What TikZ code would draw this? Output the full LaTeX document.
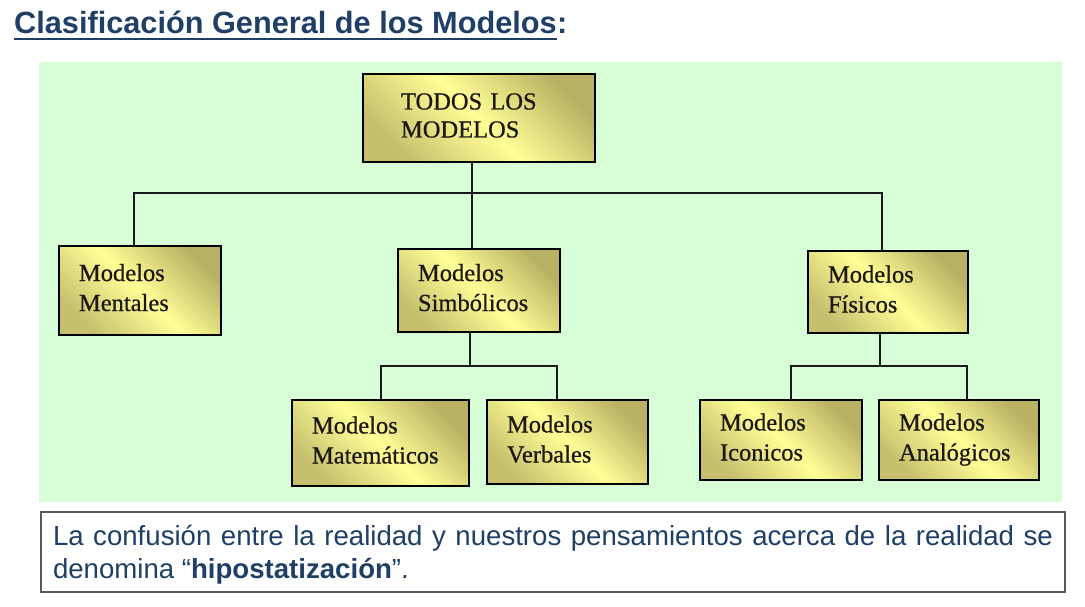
\documentclass[tikz,border=0pt]{standalone}
\usepackage{fontspec}
\setmainfont{Liberation Serif}
\newfontfamily\boxfont{Liberation Serif}[FakeBold=0.6]
\newfontfamily\arialf{Liberation Sans}
\definecolor{panel}{RGB}{216,254,216}
\definecolor{titleblue}{RGB}{31,63,102}
\definecolor{olivetop}{RGB}{185,178,100}
\definecolor{olivelow}{RGB}{198,192,110}
\definecolor{pale}{RGB}{255,255,150}
\definecolor{boxtext}{RGB}{28,24,20}
\begin{document}
\begin{tikzpicture}[x=1pt,y=-1pt,
  modelbox/.style={draw=black, line width=2pt, rectangle, inner xsep=20pt, inner ysep=0pt,
    align=left, top color=olivetop, bottom color=olivelow, middle color=pale, shading angle=-45,
    font=\boxfont\fontsize{24.5}{30}\selectfont, text=boxtext, text height=18pt, text depth=37pt},
  conn/.style={draw=black!90, line width=2.2pt}]
\useasboundingbox (0,0) rectangle (1085,607);
\fill[white] (0,0) rectangle (1085,607);
% title
\node[anchor=base west, inner sep=0pt, font=\arialf\bfseries\fontsize{30.7}{36}\selectfont, text=titleblue] (title) at (14,34) {Clasificación General de los Modelos};
\node[anchor=base west, inner sep=0pt, font=\arialf\bfseries\fontsize{30.7}{36}\selectfont, text=titleblue] (colon) at (title.base east) {:};
\draw[titleblue, line width=2.6pt] ([yshift=-5pt]title.base west) -- ([yshift=-5pt]title.base east);
% panel
\fill[panel] (39,62) rectangle (1062,502);
% boxes
\node[modelbox, inner xsep=38pt, text width=156pt, minimum width=232pt, minimum height=88pt, font=\boxfont\fontsize{24.5}{28}\selectfont, text depth=35pt] (todos) at (479,118) {TODOS LOS\\MODELOS};
\node[modelbox, text width=122pt, minimum width=162pt, minimum height=89pt] (mentales) at (140,290.5) {Modelos\\Mentales};
\node[modelbox, text width=122pt, minimum width=162pt, minimum height=83pt] (simb) at (479,290.5) {Modelos\\Simbólicos};
\node[modelbox, text width=120pt, minimum width=160pt, minimum height=82pt] (fisicos) at (888,292) {Modelos\\Físicos};
\node[modelbox, text width=137pt, minimum width=177pt, minimum height=86pt] (mate) at (380.5,443) {Modelos\\Matemáticos};
\node[modelbox, text width=121pt, minimum width=161pt, minimum height=84pt] (verb) at (567.5,442) {Modelos\\Verbales};
\node[modelbox, text width=122pt, minimum width=162pt, minimum height=80pt] (icon) at (781,440) {Modelos\\Iconicos};
\node[modelbox, text width=120pt, minimum width=160pt, minimum height=80pt] (analog) at (959,440) {Modelos\\Analógicos};
% connector anchors
\coordinate (bus) at (0,193);
\coordinate (bus2) at (0,366);
\coordinate (tB) at ([xshift=-7pt]todos.south);
\coordinate (mT) at ([xshift=-6pt]mentales.north);
\coordinate (sT) at ([xshift=-7pt]simb.north);
\coordinate (fT) at ([xshift=-6pt]fisicos.north);
\coordinate (sB) at ([xshift=-9pt]simb.south);
\coordinate (maT) at ([xshift=0.5pt]mate.north);
\coordinate (veT) at ([xshift=-10.5pt]verb.north);
\coordinate (fB) at ([xshift=-8pt]fisicos.south);
\coordinate (icT) at ([xshift=10pt]icon.north);
\coordinate (anT) at ([xshift=8pt]analog.north);
% connectors
\draw[conn] (tB) -- (tB |- bus);
\draw[conn] (mT) |- (fT |- bus) -- (fT);
\draw[conn] (sT) -- (sT |- bus);
\draw[conn] (sB) -- (sB |- bus2);
\draw[conn] (maT) |- (veT |- bus2) -- (veT);
\draw[conn] (fB) -- (fB |- bus2);
\draw[conn] (icT) |- (anT |- bus2) -- (anT);
% note
\node[draw=black!65, line width=1.3pt, fill=white, minimum width=1024pt, minimum height=80pt,
  inner xsep=12pt, inner ysep=0pt, text width=1000pt, align=justify,
  text height=19pt, text depth=32pt,
  font=\arialf\fontsize{27.6}{33}\selectfont, text=titleblue] (note) at (553,552)
  {La confusión entre la realidad y nuestros pensamientos acerca de la realidad se\linebreak denomina “\textbf{hipostatización}”.};
\end{tikzpicture}
\end{document}
